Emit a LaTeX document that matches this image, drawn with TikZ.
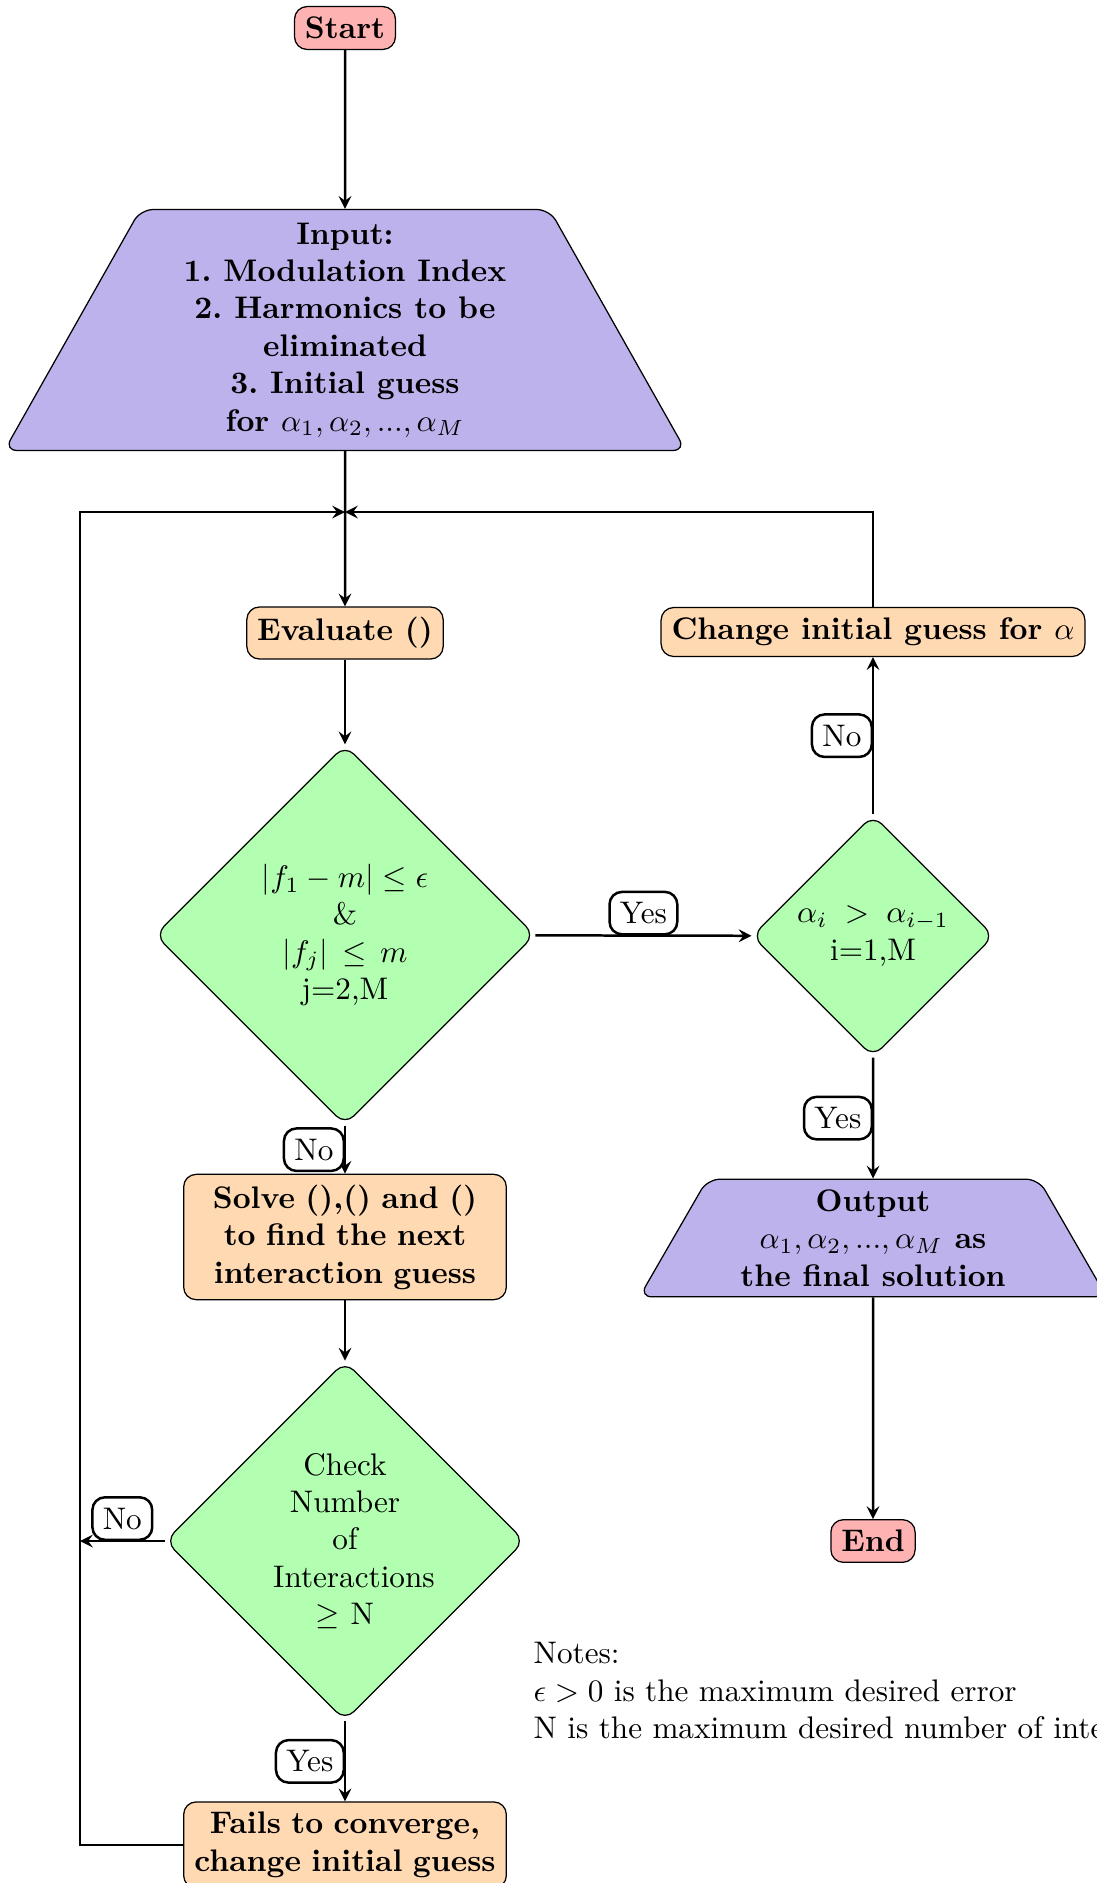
\documentclass[tikz,border=0pt]{standalone}
\usetikzlibrary{shapes.geometric}
\definecolor{iofill}{RGB}{189,178,236}
\frenchspacing
\tikzset{
  startstop/.style={rectangle, rounded corners, draw=black, fill=red!30, font=\bfseries, align=center},
  io/.style={trapezium, trapezium left angle=60, trapezium right angle=60,
    trapezium stretches body=true, rounded corners, draw=black, fill=iofill,
    font=\bfseries, align=center},
  process/.style={rectangle, rounded corners, draw=black, fill=orange!30, font=\bfseries, align=center},
  decision/.style={diamond, rounded corners, draw=black, fill=green!30, align=center, inner sep=1pt},
  arrow/.style={thick, -stealth},
  tag/.style={draw, thick, rounded corners, fill=white, font=\normalfont}
}
\begin{document}
\begin{tikzpicture}[x=0.3205pt, y=-0.3205pt]
\useasboundingbox (0,0) rectangle (1097,1883);

% main column
\node[startstop] (start) at (345,28) {Start};
\node[io, minimum width=218.3pt, minimum height=77.2pt] (in) at (345,330)
  {Input:\\1. Modulation Index\\2. Harmonics to be\\eliminated\\3. Initial guess\\for $\alpha_1, \alpha_2, ..., \alpha_M$};
\node[process] (eval) at (345,633) {Evaluate ()};
\node[decision, minimum size=121.8pt] (d1) at (345,935)
  {$|f_1 - m| \le \epsilon$\\\&\\$|f_j|\,\le\,m$\\j=2,M};
\node[process, text width=3.4cm] (solve) at (345,1237)
  {Solve (),() and ()\\to find the next\\interaction guess};
\node[decision, minimum size=115.2pt] (d3) at (345,1541)
  {Check\\Number\\of\\\hbox to 46pt{Interactions\hss}\\$\geq$ N};
\node[process, text width=3.4cm] (fails) at (345,1845)
  {Fails to converge,\\change initial guess};

% right column
\node[process] (change) at (873,632) {Change initial guess for $\alpha$};
\node[decision, minimum size=77.6pt] (d2) at (873,936)
  {$\alpha_i \;>\; \alpha_{i-1}$\\i=1,M};
\node[io, minimum width=149.7pt] (out) at (873,1238)
  {Output\\$\alpha_1, \alpha_2, ..., \alpha_M$ as\\the final solution};
\node[startstop] (end) at (873,1541) {End};

% notes
\node[anchor=north west, align=left, inner sep=0pt] (notes) at (533,1642)
  {Notes:\\$\epsilon > 0$ is the maximum desired error\\N is the maximum desired number of interactions};

% loop junction
\coordinate (jn) at (345,512);
\coordinate (lc) at (80,512);

% connectors
\draw[arrow] (start) -- (in);
\draw[arrow] (in) -- (eval);
\draw[arrow] (eval) -- (d1);
\draw[arrow] (d1) -- node[tag, above] {Yes} (d2);
\draw[arrow] (d1) -- node[tag, left] {No} (solve);
\draw[arrow] (solve) -- (d3);
\draw[arrow] (d3) -- node[tag, left] {Yes} (fails);
\draw[arrow] (d3.west) -- node[tag, above] {No} (d3.west -| lc);
\draw[arrow] (fails.west) -| (lc) -- (jn);
\draw[arrow] (d2) -- node[tag, left] {No} (change);
\draw[arrow] (change.north) |- (jn);
\draw[arrow] (d2) -- node[tag, left] {Yes} (out);
\draw[arrow] (out) -- (end);
\end{tikzpicture}
\end{document}
